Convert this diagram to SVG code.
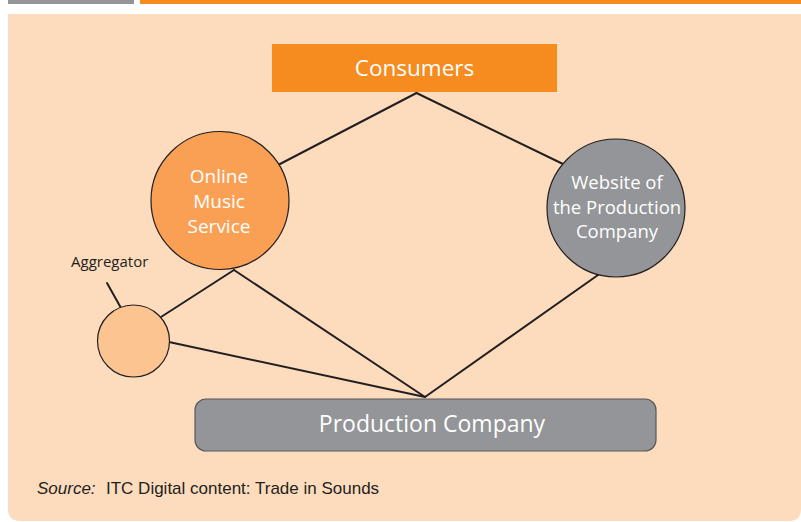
<svg xmlns="http://www.w3.org/2000/svg" width="801" height="522" viewBox="0 0 801 522">
<style>
.lbl{font-family:"Open Sans","Noto Sans",sans-serif;fill:#ffffff;text-anchor:middle}
.ln{stroke:#231f20;stroke-width:2;fill:none;stroke-linecap:round}
.circ{stroke:#231f20;stroke-width:1.2}
</style>
<rect x="0" y="0" width="801" height="522" fill="#ffffff"/>
<rect x="8" y="0" width="126" height="4" fill="#939598"/>
<rect x="140" y="0" width="661" height="4" fill="#f68b20"/>
<path d="M8 14 H801 V509 Q801 521 789 521 H20 Q8 521 8 509 Z" fill="#fddcbe"/>
<g id="connectors">
<line class="ln" x1="416.5" y1="93" x2="280" y2="164"/>
<line class="ln" x1="416.5" y1="93" x2="563" y2="164"/>
<line class="ln" x1="234" y1="270" x2="425" y2="397"/>
<line class="ln" x1="234" y1="270" x2="161" y2="317"/>
<line class="ln" x1="169" y1="342" x2="425" y2="397"/>
<line class="ln" x1="598" y1="275" x2="425" y2="397"/>
<line class="ln" x1="107" y1="283" x2="121" y2="308"/>
</g>
<g id="consumers">
<rect x="272" y="44" width="285" height="48" fill="#f68b20"/>
<text class="lbl" x="414.5" y="75.5" font-size="22.5">Consumers</text>
</g>
<g id="online-music-service">
<circle class="circ" cx="220" cy="200.5" r="69" fill="#f9a055"/>
<text class="lbl" x="219" y="183.3" font-size="19">Online</text>
<text class="lbl" x="219" y="207.5" font-size="19">Music</text>
<text class="lbl" x="219" y="233" font-size="19">Service</text>
</g>
<g id="website">
<circle class="circ" cx="616" cy="208" r="69" fill="#939598"/>
<text class="lbl" x="617" y="189" font-size="18.5">Website of</text>
<text class="lbl" x="617" y="214.3" font-size="18.5">the Production</text>
<text class="lbl" x="617" y="238" font-size="18.5">Company</text>
</g>
<g id="aggregator">
<circle class="circ" cx="133.5" cy="341" r="36" fill="#fcc490"/>
<text x="71" y="267" font-family="'Open Sans','Noto Sans',sans-serif" font-size="15" fill="#231f20">Aggregator</text>
</g>
<g id="production-company">
<rect x="195" y="399" width="461" height="52" rx="11" fill="#939598" stroke="#58595b" stroke-width="1.2"/>
<text class="lbl" x="432" y="432" font-size="23">Production Company</text>
</g>
<text x="37" y="494" font-family="'Liberation Sans Narrow','Liberation Sans',Arial,sans-serif" font-size="17" fill="#231f20"><tspan font-style="italic">Source:</tspan><tspan x="106">ITC Digital content: Trade in Sounds</tspan></text>
</svg>
